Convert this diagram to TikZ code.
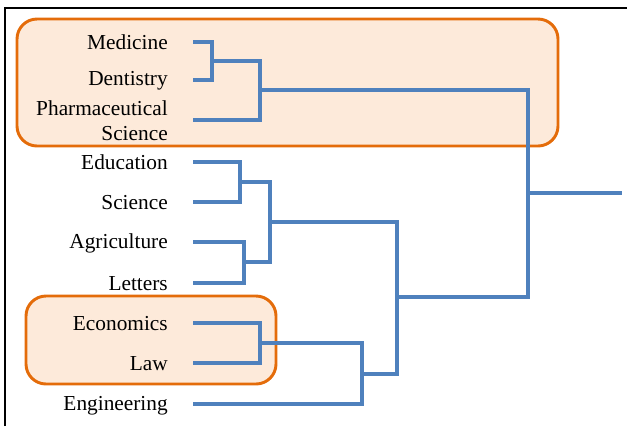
\documentclass[tikz,border=0pt]{standalone}
\usepackage{fontspec}
\setmainfont{Liberation Serif}
\usepackage{xcolor}
\usepackage{tikz}
\usetikzlibrary{calc,positioning}

\begin{document}
\begin{tikzpicture}[x=0.75pt, y=-0.75pt]

  % Define colors
  \definecolor{linkblue}{RGB}{79,129,189}
  \definecolor{groupedge}{RGB}{228,108,10}
  \definecolor{groupfill}{RGB}{253,234,218}

  \tikzset{
    lab/.style={anchor=east, inner sep=0pt, align=right,
      font=\fontsize{16}{18.75}\selectfont},
    link/.style={linkblue, line width=2.3pt},
    group/.style={draw=groupedge, fill=groupfill, line width=2.2pt, rounded corners=15pt}
  }

  \useasboundingbox (0,0) rectangle (627,426);

  % Frame
  \draw[line width=1.6pt] (5,426) -- (5,8) -- (627,8);

  % Highlighted groups
  \draw[group] (17,19) rectangle (558,146);
  \draw[group] (26,296) rectangle (276,384);

  % Faculty labels
  \node[lab] (med) at (168,42)  {Medicine};
  \node[lab] (den) at (168,81)  {Dentistry};
  \node[lab] (pha) at (168,121) {Pharmaceutical\\Science};
  \node[lab] (edu) at (168,162) {Education};
  \node[lab] (sci) at (168,203) {Science};
  \node[lab] (agr) at (168,243) {Agriculture};
  \node[lab] (let) at (168,284) {Letters};
  \node[lab] (eco) at (168,324) {Economics};
  \node[lab] (law) at (168,364) {Law};
  \node[lab] (eng) at (168,406) {Engineering};

  % Leaf ends
  \coordinate (medL) at (193,42);
  \coordinate (denL) at (193,80);
  \coordinate (phaL) at (193,120);
  \coordinate (eduL) at (193,162);
  \coordinate (sciL) at (193,202);
  \coordinate (agrL) at (193,242);
  \coordinate (letL) at (193,283);
  \coordinate (ecoL) at (193,323);
  \coordinate (lawL) at (193,363);
  \coordinate (engL) at (193,404);

  % Joins
  \coordinate (j1) at (212,61);
  \coordinate (j2) at (260,90);
  \coordinate (j3) at (240,182);
  \coordinate (j4) at (244,262);
  \coordinate (j5) at (270,222);
  \coordinate (j6) at (260,343);
  \coordinate (j7) at (362,374);
  \coordinate (j8) at (397,297);
  \coordinate (j9) at (528,193);
  \coordinate (root) at (622,193);

  % Dendrogram
  \draw[link] (medL) -| (j1) |- (denL);
  \draw[link] (j1) -| (j2) |- (phaL);
  \draw[link] (eduL) -| (j3) |- (sciL);
  \draw[link] (agrL) -| (j4) |- (letL);
  \draw[link] (j3) -| (j5) |- (j4);
  \draw[link] (ecoL) -| (j6) |- (lawL);
  \draw[link] (j6) -| (j7) |- (engL);
  \draw[link] (j5) -| (j8) |- (j7);
  \draw[link] (j2) -| (j9) |- (j8);
  \draw[link] (j9) -- (root);

\end{tikzpicture}
\end{document}
